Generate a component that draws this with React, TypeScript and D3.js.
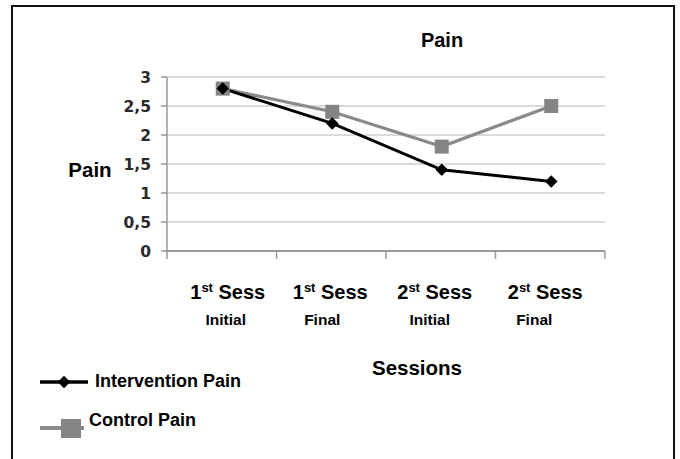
import React from "react";
import * as d3 from "d3";

const categories = ["1st Sess|Initial", "1st Sess|Final", "2st Sess|Initial", "2st Sess|Final"];
const sessLabels = ["1", "1", "2", "2"];
const subLabels = ["Initial", "Final", "Initial", "Final"];
const interventionPain = [2.8, 2.2, 1.4, 1.2];
const controlPain = [2.8, 2.4, 1.8, 2.5];
const yTicks = [0, 0.5, 1, 1.5, 2, 2.5, 3];

export default function App() {
  const W = 680, H = 459;
  const x = d3.scaleBand<string>().domain(categories).range([167, 605]).padding(0);
  const y = d3.scaleLinear().domain([0, 3]).range([251, 77]);
  const cx = (i: number) => (x(categories[i]) as number) + x.bandwidth() / 2 + 1;
  const line = d3
    .line<number>()
    .x((_, i) => cx(i))
    .y((d) => y(d));
  const fmt = (v: number) => String(v).replace(".", ",");
  const labelFont = "'Liberation Sans', Arial, sans-serif";
  const tickFont = "'DejaVu Sans', sans-serif";
  const labelOffsets = [5, -2, -7, -6];
  const subOffsets = [3, -10, -12, -17];
  const diamond = d3.symbol(d3.symbolDiamond2, 100)() || "";

  return (
    <svg width={W} height={H} style={{ position: "absolute", left: 0, top: 0 }}>
      <rect x={0} y={0} width={W} height={H} fill="#fff" />
      <path d={`M12,${H + 2} V6 H674 V${H + 2}`} fill="none" stroke="#111" strokeWidth={2} />
      <text x={442} y={47} textAnchor="middle" fontFamily={labelFont} fontWeight="bold" fontSize={20}>
        Pain
      </text>
      {yTicks.map((t) => (
        <g key={t}>
          {t > 0 && (
            <line x1={167} x2={605} y1={y(t)} y2={y(t)} stroke="#cfcfcf" strokeWidth={1.6} />
          )}
          <line x1={161} x2={167} y1={y(t)} y2={y(t)} stroke="#999" strokeWidth={1.5} />
          <text
            x={151}
            y={y(t) + 5.5}
            textAnchor="end"
            fontFamily={tickFont}
            fontWeight="bold"
            fontSize={15.5}
            fill="#2a2a2a"
          >
            {fmt(t)}
          </text>
        </g>
      ))}
      <line x1={167} x2={167} y1={77} y2={259} stroke="#999" strokeWidth={1.5} />
      <line x1={167} x2={605} y1={251} y2={251} stroke="#999" strokeWidth={2} />
      {categories.map((c) => (
        <line
          key={c}
          x1={(x(c) as number) + x.bandwidth()}
          x2={(x(c) as number) + x.bandwidth()}
          y1={251}
          y2={259}
          stroke="#999"
          strokeWidth={1.5}
        />
      ))}
      <text x={90} y={177} textAnchor="middle" fontFamily={labelFont} fontWeight="bold" fontSize={20.5}>
        Pain
      </text>
      <path d={line(controlPain) || ""} fill="none" stroke="#8a8a8a" strokeWidth={3.2} />
      <path d={line(interventionPain) || ""} fill="none" stroke="#000" strokeWidth={3} />
      {controlPain.map((v, i) => (
        <rect key={i} x={cx(i) - 7} y={y(v) - 7} width={14} height={14} fill="#858585" />
      ))}
      {interventionPain.map((v, i) => (
        <path key={i} d={diamond} transform={`translate(${cx(i)},${y(v)})`} fill="#000" />
      ))}
      {categories.map((c, i) => (
        <g key={c} fontFamily={labelFont} fontWeight="bold">
          <text x={cx(i) + labelOffsets[i]} y={299} textAnchor="middle" fontSize={20}>
            {sessLabels[i]}
            <tspan fontSize={13} dy={-7}>st</tspan>
            <tspan dy={7}> Sess</tspan>
          </text>
          <text x={cx(i) + subOffsets[i]} y={325} textAnchor="middle" fontSize={15.5}>
            {subLabels[i]}
          </text>
        </g>
      ))}
      <text x={417} y={375} textAnchor="middle" fontFamily={labelFont} fontWeight="bold" fontSize={20.5}>
        Sessions
      </text>
      <line x1={40} x2={88} y1={382} y2={382} stroke="#000" strokeWidth={3.5} />
      <path d={diamond} transform="translate(64,382)" fill="#000" />
      <text x={95} y={387} fontFamily={labelFont} fontWeight="bold" fontSize={18}>
        Intervention Pain
      </text>
      <line x1={40} x2={84} y1={428} y2={428} stroke="#8a8a8a" strokeWidth={4} />
      <rect x={61} y={419} width={20} height={19} fill="#858585" />
      <text x={89} y={426} fontFamily={labelFont} fontWeight="bold" fontSize={18}>
        Control Pain
      </text>
    </svg>
  );
}
